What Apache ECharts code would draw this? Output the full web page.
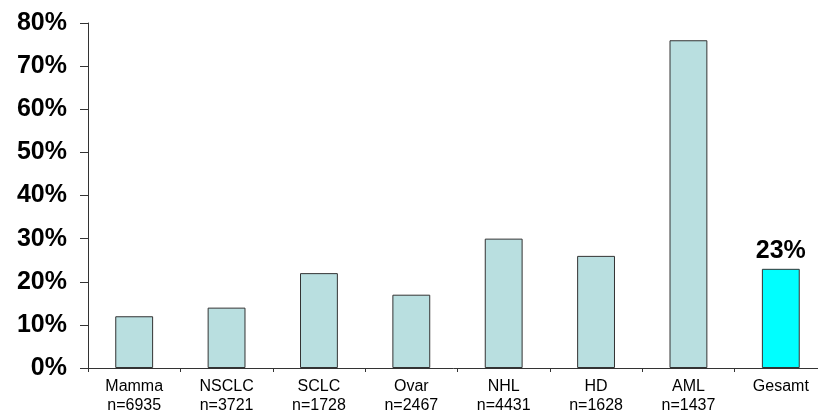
<!DOCTYPE html>
<html>
<head>
<meta charset="utf-8">
<script src="https://cdn.jsdelivr.net/npm/echarts@6/dist/echarts.min.js"></script>
<style>
  html, body { margin: 0; padding: 0; background: #ffffff; }
  #chart { width: 818px; height: 412px; }
</style>
</head>
<body>
<div id="chart"></div>
<script>
// Tumour entities with case counts
const categories = ['Mamma', 'NSCLC', 'SCLC', 'Ovar', 'NHL', 'HD', 'AML', 'Gesamt'];
const caseCounts = ['n=6935', 'n=3721', 'n=1728', 'n=2467', 'n=4431', 'n=1628', 'n=1437', ''];
// Percentage per entity
const values = [12, 14, 22, 17, 30, 26, 76, 23];
// Index of the highlighted total bar
const totalIndex = 7;

const FONT = 'Liberation Sans, Arial, sans-serif';
const chart = echarts.init(document.getElementById('chart'));

const barData = values.map((v, i) => {
  if (i === totalIndex) {
    return {
      value: v,
      itemStyle: { color: '#00ffff' },
      label: {
        show: true,
        position: 'top',
        distance: 5,
        formatter: '{c}%',
        fontFamily: FONT,
        fontWeight: 'bold',
        fontSize: 25,
        color: '#000000'
      }
    };
  }
  return v;
});

chart.setOption({
  animation: false,
  // plot area runs slightly past the right edge of the canvas
  grid: { left: 88, width: 739, top: 23, bottom: 44, outerBoundsMode: 'none', containLabel: false },
  xAxis: {
    type: 'category',
    data: categories.map((c, i) => caseCounts[i] ? c + '\n' + caseCounts[i] : c),
    axisLine: { lineStyle: { color: '#333333', width: 1 } },
    axisTick: { show: true, length: 4, lineStyle: { color: '#333333' } },
    axisLabel: {
      fontFamily: FONT,
      fontSize: 16,
      color: '#000000',
      lineHeight: 19,
      margin: 9
    }
  },
  yAxis: {
    type: 'value',
    min: 0,
    max: 80,
    interval: 10,
    splitLine: { show: false },
    axisLine: { show: true, lineStyle: { color: '#333333', width: 1 } },
    axisTick: { show: true, length: 8, lineStyle: { color: '#333333' } },
    axisLabel: {
      formatter: '{value}%',
      fontFamily: FONT,
      fontWeight: 'bold',
      fontSize: 25,
      color: '#000000',
      margin: 21
    }
  },
  series: [{
    type: 'bar',
    data: barData,
    barWidth: '41%',
    itemStyle: {
      color: '#b9dfe0',
      borderColor: '#333333',
      borderWidth: 1
    }
  }]
});
</script>
</body>
</html>
